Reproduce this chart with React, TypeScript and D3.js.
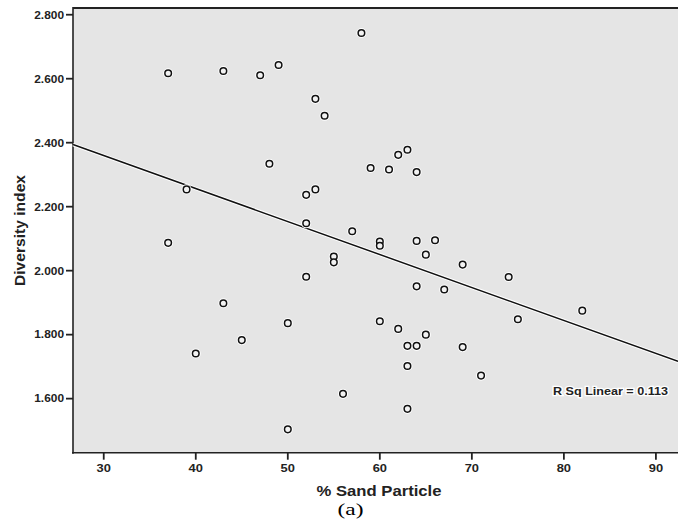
import React, { useEffect, useRef } from "react";
import * as d3 from "d3";

// % sand particle (x) and diversity index (y)
const sand = [
  37, 43, 47, 49, 58, 53, 54, 48, 59, 61, 62, 63, 64, 52, 53, 52, 57, 60, 60, 55,
  55, 64, 66, 65, 52, 64, 67, 50, 45, 60, 62, 65, 63, 64, 63, 69, 74, 75, 82, 69,
  71, 39, 37, 43, 40, 56, 63, 50,
];
const diversity = [
  2.617, 2.624, 2.611, 2.643, 2.743, 2.537, 2.484, 2.334, 2.321, 2.316, 2.362,
  2.378, 2.308, 2.237, 2.254, 2.148, 2.123, 2.091, 2.078, 2.044, 2.026, 2.093,
  2.095, 2.05, 1.981, 1.951, 1.941, 1.836, 1.783, 1.842, 1.818, 1.8, 1.765,
  1.765, 1.702, 2.019, 1.98, 1.848, 1.875, 1.761, 1.672, 2.254, 2.087, 1.898,
  1.741, 1.615, 1.568, 1.504,
];
const xTicks = [30, 40, 50, 60, 70, 80, 90];
const yTicks = [1.6, 1.8, 2.0, 2.2, 2.4, 2.6, 2.8];
// fit line y = a + b*x, as drawn
const fitIntercept = 2.669;
const fitSlope = -0.01031;
const rSqLabel = "R Sq Linear = 0.113";

const W = 678;
const H = 526;

export default function App() {
  const ref = useRef<SVGSVGElement>(null);

  useEffect(() => {
    const svg = d3.select(ref.current);
    svg.selectAll("*").remove();

    const left = 73, right = 678, top = 8, bottom = 452.7;
    const x = d3.scaleLinear().domain([26.66, 92.4]).range([left, right]);
    const y = d3.scaleLinear().domain([1.431, 2.821]).range([bottom, top]);
    const font = "'Liberation Sans', Arial, sans-serif";

    // the source picture is a bit stretched sideways, so widen text to match
    const stretch = (sel: any, k: number) => {
      sel.each(function (this: SVGTextElement) {
        const len = this.getComputedTextLength();
        d3.select(this).attr("textLength", len * k).attr("lengthAdjust", "spacingAndGlyphs");
      });
    };

    // plot background
    svg.append("rect")
      .attr("x", left).attr("y", top)
      .attr("width", right + 10 - left).attr("height", bottom - top)
      .attr("fill", "#e5e5e5");

    // frame
    svg.append("line").attr("x1", left).attr("x2", W + 5).attr("y1", top).attr("y2", top)
      .attr("stroke", "#222").attr("stroke-width", 2);
    svg.append("line").attr("x1", left).attr("x2", left).attr("y1", top - 1).attr("y2", bottom + 1)
      .attr("stroke", "#222").attr("stroke-width", 1.6);
    svg.append("line").attr("x1", left - 1).attr("x2", W + 5).attr("y1", bottom).attr("y2", bottom)
      .attr("stroke", "#222").attr("stroke-width", 1.6);

    // y axis
    const yAx = svg.append("g");
    yTicks.forEach((t) => {
      yAx.append("line").attr("x1", left - 7).attr("x2", left).attr("y1", y(t)).attr("y2", y(t))
        .attr("stroke", "#222").attr("stroke-width", 1.8);
      const lab = yAx.append("text").attr("x", left - 9).attr("y", y(t)).attr("dy", "0.35em")
        .attr("text-anchor", "end").attr("font-family", font).attr("font-weight", 700)
        .attr("font-size", 11).attr("fill", "#222").text(d3.format(".3f")(t));
      stretch(lab, 1.08);
    });

    // x axis
    const xAx = svg.append("g");
    xTicks.forEach((t) => {
      xAx.append("line").attr("x1", x(t)).attr("x2", x(t)).attr("y1", bottom).attr("y2", bottom + 7)
        .attr("stroke", "#222").attr("stroke-width", 1.8);
      const lab = xAx.append("text").attr("x", x(t)).attr("y", bottom + 19)
        .attr("text-anchor", "middle").attr("font-family", font).attr("font-weight", 700)
        .attr("font-size", 11.5).attr("fill", "#222").text(t);
      stretch(lab, 1.12);
    });

    // axis titles
    svg.append("text").attr("x", 379).attr("y", 496)
      .attr("text-anchor", "middle").attr("font-family", font).attr("font-weight", 700)
      .attr("font-size", 15).attr("fill", "#222")
      .attr("textLength", 125).attr("lengthAdjust", "spacingAndGlyphs")
      .text("% Sand Particle");
    svg.append("text").attr("transform", "translate(24.5,230.5) rotate(-90)")
      .attr("text-anchor", "middle").attr("font-family", font).attr("font-weight", 700)
      .attr("font-size", 15).attr("fill", "#222")
      .attr("textLength", 111).attr("lengthAdjust", "spacingAndGlyphs")
      .text("Diversity index");
    svg.append("text").attr("x", 350.5).attr("y", 515)
      .attr("text-anchor", "middle").attr("font-family", "'Liberation Serif', 'Times New Roman', serif")
      .attr("font-size", 17).attr("fill", "#000")
      .attr("textLength", 26).attr("lengthAdjust", "spacingAndGlyphs")
      .text("(a)");

    // fit line with white halo
    const xd = x.domain();
    const fit = d3.line<number>().x((d) => x(d)).y((d) => y(fitIntercept + fitSlope * d));
    svg.append("path").attr("d", fit(xd)).attr("stroke", "#fff").attr("stroke-width", 3.5).attr("fill", "none");
    svg.append("path").attr("d", fit(xd)).attr("stroke", "#111").attr("stroke-width", 1.5).attr("fill", "none");

    // points
    const pts = sand.map((s, i) => [s, diversity[i]] as [number, number]);
    const g = svg.append("g");
    g.selectAll("circle.halo").data(pts).enter().append("circle").attr("class", "halo")
      .attr("cx", (d) => x(d[0])).attr("cy", (d) => y(d[1])).attr("r", 3.3)
      .attr("fill", "none").attr("stroke", "#fff").attr("stroke-width", 3.5);
    g.selectAll("circle.pt").data(pts).enter().append("circle").attr("class", "pt")
      .attr("cx", (d) => x(d[0])).attr("cy", (d) => y(d[1])).attr("r", 3.3)
      .attr("fill", "#f2f2f2").attr("stroke", "#111").attr("stroke-width", 1.5);

    // R squared label
    svg.append("text").attr("x", 610.5).attr("y", 395)
      .attr("text-anchor", "middle").attr("font-family", font).attr("font-weight", 700)
      .attr("font-size", 10.5).attr("fill", "#222")
      .attr("stroke", "#fff").attr("stroke-width", 2.5).attr("paint-order", "stroke")
      .attr("textLength", 115).attr("lengthAdjust", "spacingAndGlyphs")
      .text(rSqLabel);
  }, []);

  return (
    <svg
      ref={ref}
      width={W}
      height={H}
      style={{ position: "absolute", left: 0, top: 0, background: "#fff" }}
    />
  );
}
